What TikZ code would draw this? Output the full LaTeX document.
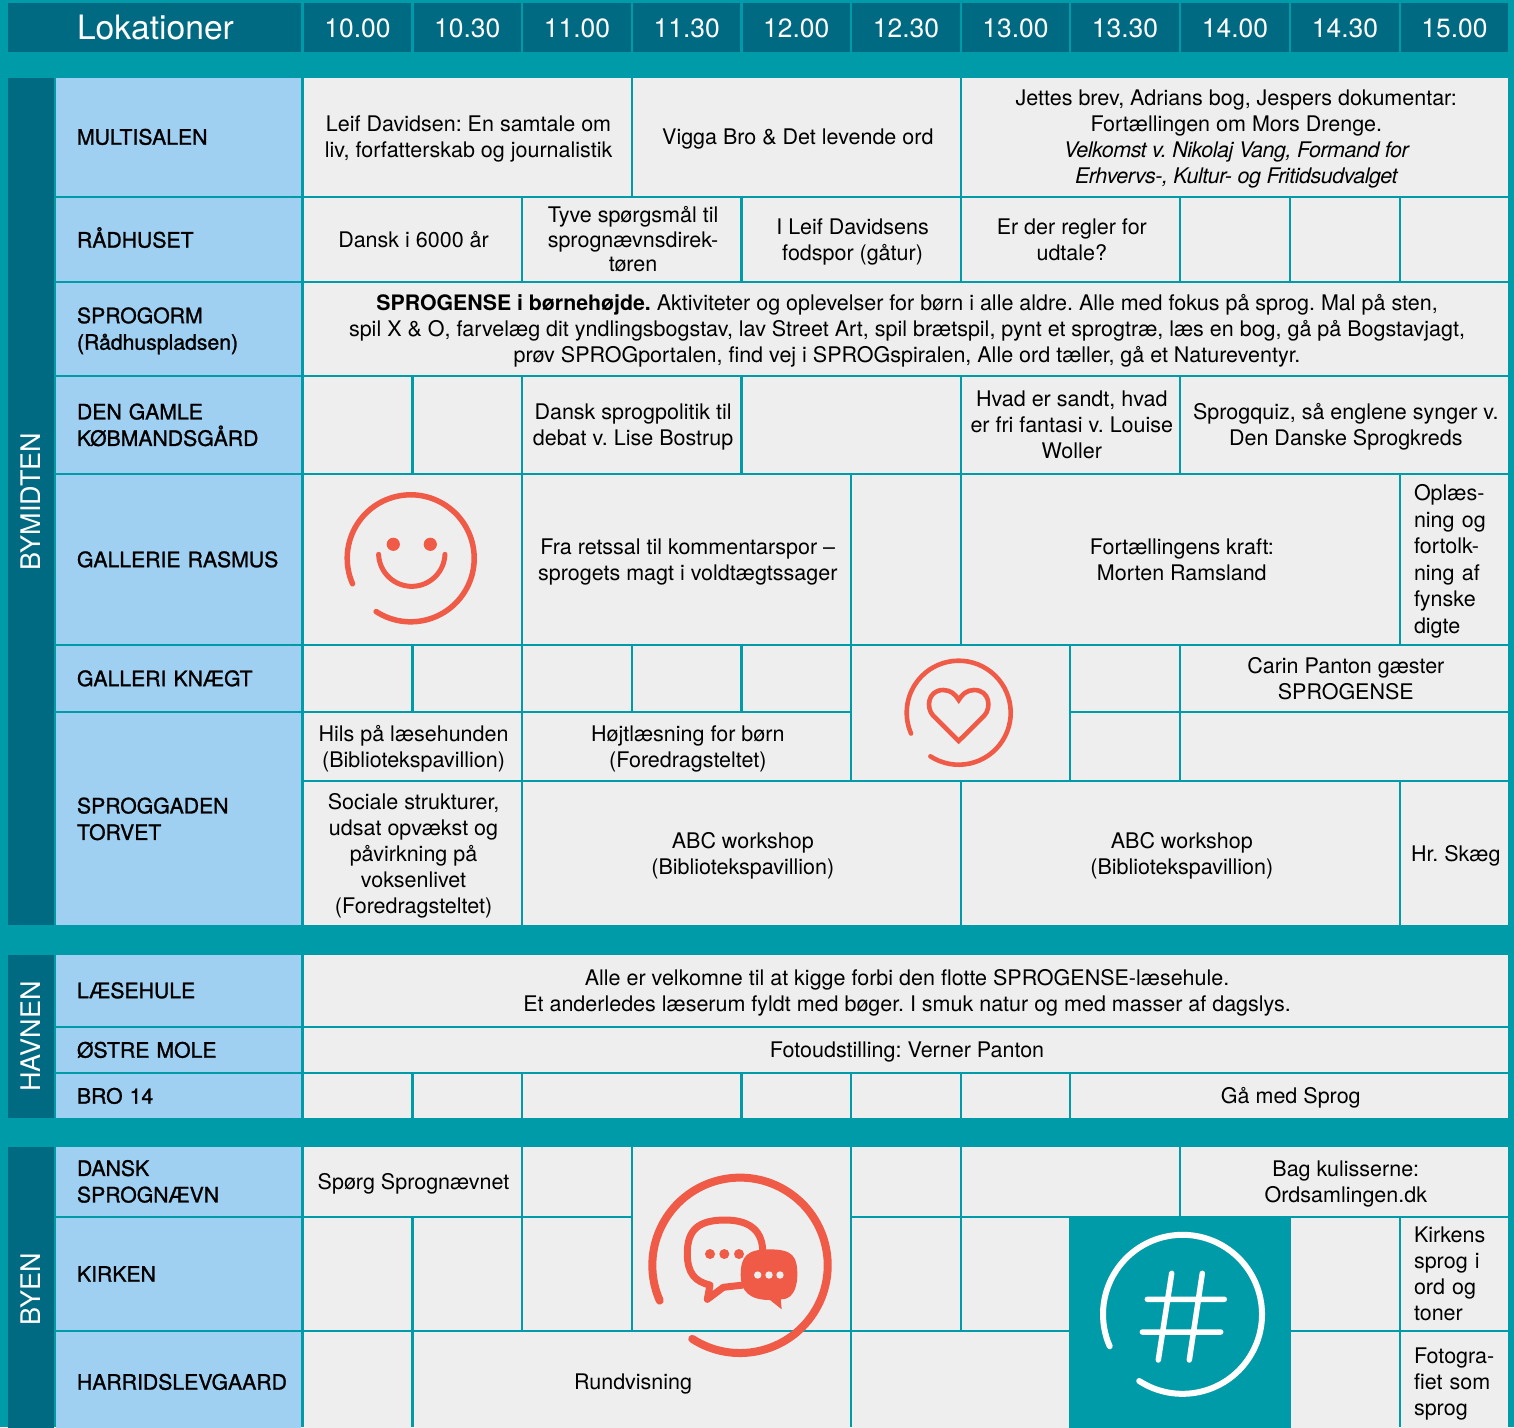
\documentclass[tikz,border=0pt]{standalone}
\usepackage{fontspec}
\setmainfont{TeX Gyre Heros}
\newfontfamily\medf[FakeBold=1.2]{TeX Gyre Heros}
\definecolor{teal}{HTML}{009BA8}
\definecolor{deep}{HTML}{006A82}
\definecolor{sky}{HTML}{9FD0F2}
\definecolor{cellgrey}{HTML}{EEEEEE}
\definecolor{coral}{HTML}{EF5B47}
\newcommand\mystrut{\leavevmode\vrule width0pt height .92em depth .2em\relax}
\newcommand\tightit[1]{{\itshape\addfontfeatures{LetterSpace=-2.2}#1}}
\newcommand\tightbf[1]{{\fontsize{21.3}{26}\selectfont\bfseries #1}}
\tikzset{
  box/.style={rectangle,inner sep=0pt,anchor=center,align=center,text=black,fill=cellgrey,
    font=\fontsize{21.5}{26}\selectfont},
  locbox/.style={box,fill=sky,font=\fontsize{21.2}{26.5}\selectfont\medf},
  headbox/.style={box,fill=deep,text=white,font=\fontsize{26.4}{30}\selectfont},
  bandbox/.style={box,fill=deep,text=white,font=\fontsize{27}{30}\selectfont},
  ring/.style={line cap=round,draw=coral},
}
% [options]{name}{x1}{y1}{x2}{y2}{text}: a centred cell; the text node sits slightly right of centre
\newcommand\cellc[7][box]{%
  \pgfmathsetmacro\mycw{#5-#3-2.4}\pgfmathsetmacro\mych{#6-#4-2.4}%
  \pgfmathsetmacro\mycx{(#3+#5)/2}\pgfmathsetmacro\mycy{-(#4+#6)/2}%
  \node[box,#1,minimum width=\mycw pt,minimum height=\mych pt] (#2) at (\mycx,\mycy) {};%
  \if\relax\detokenize{#7}\relax\else
    \node[box,#1,fill=none,xshift=1.3pt] (#2t) at (\mycx,\mycy) {\mystrut #7\mystrut};%
  \fi}
% one node, text as given (headers and bands)
\newcommand\cellh[7][box]{%
  \pgfmathsetmacro\mycw{#5-#3-2.4}\pgfmathsetmacro\mych{#6-#4-2.4}%
  \pgfmathsetmacro\mycx{(#3+#5)/2}\pgfmathsetmacro\mycy{-(#4+#6)/2}%
  \node[box,#1,minimum width=\mycw pt,minimum height=\mych pt] (#2) at (\mycx,\mycy) {#7};}
% left aligned: {inset} first
\newcommand\celll[8][box]{%
  \pgfmathsetmacro\mycw{#5-#3-2.4}\pgfmathsetmacro\mych{#6-#4-2.4}%
  \pgfmathsetmacro\mycx{(#3+#5)/2}\pgfmathsetmacro\mycy{-(#4+#6)/2}%
  \pgfmathsetmacro\myctw{#5-#3-2*#7}%
  \node[box,#1,minimum width=\mycw pt,minimum height=\mych pt,text width=\myctw pt,align=left] (#2) at (\mycx,\mycy) {\mystrut #8\mystrut};}
\begin{document}
\frenchspacing
\begin{tikzpicture}[x=1pt,y=1pt]
\useasboundingbox (0,-1427) rectangle (1514,0);
\clip (0,-1427) rectangle (1514,0);
\fill[teal] (0,-1427) rectangle (1514,0);
% header
\celll[headbox,font=\fontsize{33.6}{36}\selectfont]{hLok}{7}{2}{302.5}{53}{70}{Lokationer}
\cellh[headbox]{h10}{302.5}{2}{412.5}{53}{\mystrut 10.00}
\cellh[headbox]{h1030}{412.5}{2}{522}{53}{\mystrut 10.30}
\cellh[headbox]{h11}{522}{2}{632}{53}{\mystrut 11.00}
\cellh[headbox]{h1130}{632}{2}{741.5}{53}{\mystrut 11.30}
\cellh[headbox]{h12}{741.5}{2}{851}{53}{\mystrut 12.00}
\cellh[headbox]{h1230}{851}{2}{961}{53}{\mystrut 12.30}
\cellh[headbox]{h13}{961}{2}{1070}{53}{\mystrut 13.00}
\cellh[headbox]{h1330}{1070}{2}{1180}{53}{\mystrut 13.30}
\cellh[headbox]{h14}{1180}{2}{1290}{53}{\mystrut 14.00}
\cellh[headbox]{h1430}{1290}{2}{1400}{53}{\mystrut 14.30}
\cellh[headbox]{h15}{1400}{2}{1509}{53}{\mystrut 15.00}
% bands
\cellh[bandbox]{bandA}{7}{77}{55}{926}{\rotatebox{90}{BYMIDTEN}}
\cellh[bandbox]{bandB}{7}{954}{55}{1119}{\rotatebox{90}{HAVNEN}}
\cellh[bandbox]{bandC}{7}{1146}{55}{1433}{\rotatebox{90}{BYEN}}
% locations
\celll[locbox]{lMulti}{55}{77}{302.5}{197}{22}{MULTISALEN}
\celll[locbox]{lRaad}{55}{197}{302.5}{282}{22}{RÅDHUSET}
\celll[locbox]{lOrm}{55}{282}{302.5}{376}{22}{SPROGORM\\(Rådhuspladsen)}
\celll[locbox]{lKob}{55}{376}{302.5}{474}{22}{DEN GAMLE\\KØBMANDSGÅRD}
\celll[locbox]{lRas}{55}{474}{302.5}{645}{22}{GALLERIE RASMUS}
\celll[locbox]{lKn}{55}{645}{302.5}{712}{22}{GALLERI KNÆGT}
\celll[locbox]{lGad}{55}{712}{302.5}{926}{22}{SPROGGADEN\\TORVET}
\celll[locbox]{lLaes}{55}{954}{302.5}{1027}{22}{LÆSEHULE}
\celll[locbox]{lOst}{55}{1027}{302.5}{1073}{22}{ØSTRE MOLE}
\celll[locbox]{lBro}{55}{1073}{302.5}{1119}{22}{BRO 14}
\celll[locbox]{lDansk}{55}{1146}{302.5}{1217}{22}{DANSK\\SPROGNÆVN}
\celll[locbox]{lKirk}{55}{1217}{302.5}{1331}{22}{KIRKEN}
\celll[locbox]{lHarr}{55}{1331}{302.5}{1433}{22}{HARRIDSLEVGAARD}
% Multisalen
\cellc{a1}{302.5}{77}{632}{197}{Leif Davidsen: En samtale om\\liv, forfatterskab og journalistik}
\cellc{a2}{632}{77}{961}{197}{Vigga Bro \& Det levende ord}
\cellc{a3}{961}{77}{1509}{197}{Jettes brev, Adrians bog, Jespers dokumentar:\\Fortællingen om Mors Drenge.\\\tightit{Velkomst v. Nikolaj Vang, Formand for}\\\tightit{Erhvervs-, Kultur- og Fritidsudvalget}}
% Raadhuset
\cellc{b1}{302.5}{197}{522}{282}{Dansk i 6000 år}
\cellc[font=\fontsize{21.5}{24.5}\selectfont]{b2}{522}{197}{741.5}{282}{Tyve spørgsmål til\\sprognævnsdirek-\\tøren}
\cellc{b3}{741.5}{197}{961}{282}{I Leif Davidsens\\fodspor (gåtur)}
\cellc{b4}{961}{197}{1180}{282}{Er der regler for\\udtale?}
\cellc{b5}{1180}{197}{1290}{282}{}
\cellc{b6}{1290}{197}{1400}{282}{}
\cellc{b7}{1400}{197}{1509}{282}{}
% Sprogorm
\cellc{c1}{302.5}{282}{1509}{376}{\tightbf{SPROGENSE i børnehøjde.} Aktiviteter og oplevelser for børn i alle aldre. Alle med fokus på sprog. Mal på sten,\\spil X \& O, farvelæg dit yndlingsbogstav, lav Street Art, spil brætspil, pynt et sprogtræ, læs en bog, gå på Bogstavjagt,\\prøv SPROGportalen, find vej i SPROGspiralen, Alle ord tæller, gå et Natureventyr.}
% Koebmandsgaard
\cellc{d1}{302.5}{376}{412.5}{474}{}
\cellc{d2}{412.5}{376}{522}{474}{}
\cellc{d3}{522}{376}{741.5}{474}{Dansk sprogpolitik til\\debat v. Lise Bostrup}
\cellc{d4}{741.5}{376}{961}{474}{}
\cellc{d5}{961}{376}{1180}{474}{Hvad er sandt, hvad\\er fri fantasi v. Louise\\Woller}
\cellc{d6}{1180}{376}{1509}{474}{Sprogquiz, så englene synger v.\\Den Danske Sprogkreds}
% Rasmus
\cellc{e1}{302.5}{474}{522}{645}{}
\cellc{e2}{522}{474}{851}{645}{Fra retssal til kommentarspor –\\sprogets magt i voldtægtssager}
\cellc{e3}{851}{474}{961}{645}{}
\cellc{e4}{961}{474}{1400}{645}{Fortællingens kraft:\\Morten Ramsland}
\celll[font=\fontsize{21.5}{26.6}\selectfont]{e5}{1400}{474}{1509}{645}{14}{Oplæs-\\ning og\\fortolk-\\ning af\\fynske\\digte}
% Knaegt
\cellc{f1}{302.5}{645}{412.5}{712}{}
\cellc{f2}{412.5}{645}{522}{712}{}
\cellc{f3}{522}{645}{632}{712}{}
\cellc{f4}{632}{645}{741.5}{712}{}
\cellc{f5}{741.5}{645}{851}{712}{}
\cellc{f6}{851}{645}{1070}{781}{}
\cellc{f7}{1070}{645}{1180}{712}{}
\cellc{f8}{1180}{645}{1509}{712}{Carin Panton gæster\\SPROGENSE}
% Sproggaden
\cellc{g1}{302.5}{712}{522}{781}{Hils på læsehunden\\(Bibliotekspavillion)}
\cellc{g2}{522}{712}{851}{781}{Højtlæsning for børn\\(Foredragsteltet)}
\cellc{g3}{1070}{712}{1180}{781}{}
\cellc{g4}{1180}{712}{1509}{781}{}
\cellc{h1}{302.5}{781}{522}{926}{Sociale strukturer,\\udsat opvækst og\\påvirkning på\\voksenlivet\\(Foredragsteltet)}
\cellc{h2}{522}{781}{961}{926}{ABC workshop\\(Bibliotekspavillion)}
\cellc{h3}{961}{781}{1400}{926}{ABC workshop\\(Bibliotekspavillion)}
\cellc{h4}{1400}{781}{1509}{926}{Hr. Skæg}
% Havnen
\cellc{i1}{302.5}{954}{1509}{1027}{Alle er velkomne til at kigge forbi den flotte SPROGENSE-læsehule.\\Et anderledes læserum fyldt med bøger. I smuk natur og med masser af dagslys.}
\cellc{j1}{302.5}{1027}{1509}{1073}{Fotoudstilling: Verner Panton}
\cellc{k1}{302.5}{1073}{412.5}{1119}{}
\cellc{k2}{412.5}{1073}{522}{1119}{}
\cellc{k3}{522}{1073}{741.5}{1119}{}
\cellc{k4}{741.5}{1073}{851}{1119}{}
\cellc{k5}{851}{1073}{961}{1119}{}
\cellc{k6}{961}{1073}{1070}{1119}{}
\cellc{k7}{1070}{1073}{1509}{1119}{Gå med Sprog}
% Byen
\cellc{m1}{302.5}{1146}{522}{1217}{Spørg Sprognævnet}
\cellc{m2}{522}{1146}{632}{1217}{}
\cellc{m3}{632}{1146}{851}{1331}{}
\cellc{m4}{851}{1146}{961}{1217}{}
\cellc{m5}{961}{1146}{1180}{1217}{}
\cellc{m6}{1180}{1146}{1509}{1217}{Bag kulisserne:\\Ordsamlingen.dk}
\cellc{n1}{302.5}{1217}{412.5}{1331}{}
\cellc{n2}{412.5}{1217}{522}{1331}{}
\cellc{n3}{522}{1217}{632}{1331}{}
\cellc{n4}{851}{1217}{961}{1331}{}
\cellc{n5}{961}{1217}{1070}{1331}{}
\cellc[fill=teal]{n6}{1068}{1215}{1292}{1433}{}
\cellc{n7}{1290}{1217}{1400}{1331}{}
\celll{n8}{1400}{1217}{1509}{1331}{14}{Kirkens\\sprog i\\ord og\\toner}
\cellc{o1}{302.5}{1331}{412.5}{1433}{}
\cellc{o2}{412.5}{1331}{851}{1433}{Rundvisning}
\cellc{o3}{851}{1331}{1070}{1433}{}
\cellc{o4}{1290}{1331}{1400}{1433}{}
\celll{o5}{1400}{1331}{1509}{1433}{14}{\makebox[0pt][l]{Fotogra-}\\fiet som\\sprog}
% smiley
\begin{scope}[shift={(410.7,-558.3)}]
  \draw[ring,line width=5.5pt] (237:63.5) arc[start angle=237,end angle=563.7,radius=63.5];
  \fill[coral] (-17.4,14) circle[radius=6.6] (19.6,14) circle[radius=6.6];
  \draw[ring,line width=5pt] (-32.1,4) arc[start angle=182,end angle=358,radius=33.2];
\end{scope}
% heart
\begin{scope}[shift={(958.7,-712.7)}]
  \draw[ring,line width=4.6pt] (237:52) arc[start angle=237,end angle=563.7,radius=52];
  \draw[draw=coral,line width=4.6pt,miter limit=4] (0,-28.3) -- (-25.5,-3)
    .. controls (-33,5) and (-31,22.7) .. (-15.3,22.7)
    .. controls (-8,22.7) and (-3,18) .. (0,12.7)
    .. controls (3,18) and (8,22.7) .. (15.3,22.7)
    .. controls (31,22.7) and (33,5) .. (25.5,-3) -- cycle;
\end{scope}
% chat
\begin{scope}[shift={(740,-1265.3)}]
  \draw[ring,line width=8pt] (237:87.7) arc[start angle=237,end angle=563.7,radius=87.7];
  \draw[draw=coral,line width=7pt,line join=round] (22.7,15.3)
    .. controls (21.7,37) and (6.7,45.3) .. (-15,45.3)
    .. controls (-41.7,45.3) and (-52.7,35.3) .. (-52.7,12)
    .. controls (-52.7,-8) and (-45,-16.3) .. (-30,-19.7)
    -- (-32.7,-34) -- (-16.7,-22) -- (3.3,-19.7);
  \fill[coral] (29,16) .. controls (53.3,16) and (57.3,8.7) .. (57.3,-9.7)
    .. controls (57.3,-26.3) and (50,-34.7) .. (40.7,-34)
    -- (41.7,-44) -- (30,-34.7)
    .. controls (10,-34.7) and (0.7,-26.3) .. (0.7,-9.7)
    .. controls (0.7,8.7) and (6.7,16) .. (29,16) -- cycle;
  \fill[coral] (-30,11.3) circle[radius=5] (-15.7,11.3) circle[radius=5] (-1,11.3) circle[radius=5];
  \fill[cellgrey] (17.7,-9.7) circle[radius=3.7] (29,-9.7) circle[radius=3.7] (40,-9.7) circle[radius=3.7];
\end{scope}
% hash
\begin{scope}[shift={(1182.5,-1314.3)},line cap=round,white]
  \draw[line width=6pt] (237:79.5) arc[start angle=237,end angle=563.7,radius=79.5];
  \draw[line width=5.5pt] (-10.8,41) -- (-24.2,-45.7) (19.8,41) -- (6.8,-45.7)
    (-35.2,15) -- (41.8,15) (-40.2,-17.7) -- (38.2,-17.7);
\end{scope}
\end{tikzpicture}
\end{document}
